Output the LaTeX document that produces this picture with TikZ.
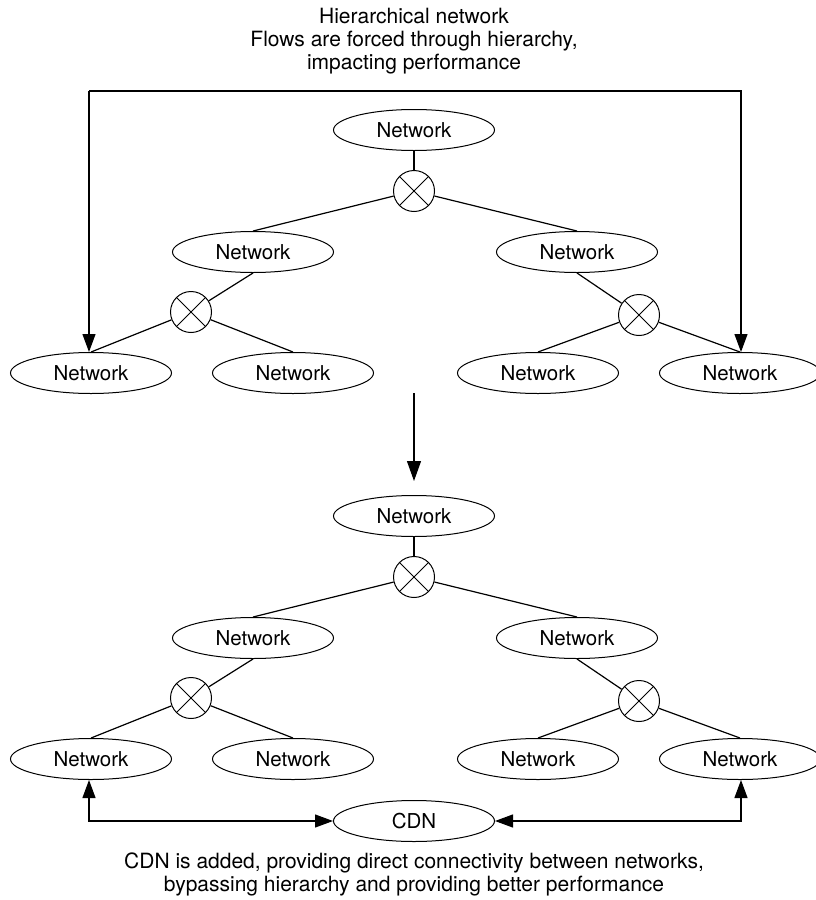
\documentclass[tikz,border=0pt]{standalone}
\usepackage{fontspec}
\setmainfont{TeX Gyre Heros}
\usetikzlibrary{shapes.geometric,arrows.meta}
\begin{document}
\begin{tikzpicture}[x=1pt,y=-1pt,
  net/.style={draw,ellipse,line width=1pt,minimum width=161pt,minimum height=41pt,inner sep=0pt,font=\fontsize{20.5}{24}\selectfont},
  switch/.style={draw,circle,line width=1pt,minimum size=41pt,inner sep=0pt,
    path picture={\draw[line width=1pt] (path picture bounding box.north west) -- (path picture bounding box.south east)
      (path picture bounding box.south west) -- (path picture bounding box.north east);}},
  link/.style={line width=1.2pt},
  flow/.style={line width=1.2pt,{Triangle[length=18pt,width=13pt]}-{Triangle[length=18pt,width=13pt]}},
  caption/.style={align=center,font=\fontsize{21}{23}\selectfont}]
\useasboundingbox (0,0) rectangle (816,900);

% heading
\node[caption] (head) at (414,41) {Hierarchical network\\Flows are forced through hierarchy,\\impacting performance};

% upper tree
\node[net] (t0) at (414,130) {Network};
\node[switch] (ts0) at (414,191) {};
\node[net] (t1) at (253,252) {Network};
\node[net] (t2) at (577,252) {Network};
\node[switch] (ts1) at (191,312) {};
\node[switch] (ts2) at (639,315) {};
\node[net] (t3) at (91,373) {Network};
\node[net] (t4) at (293,373) {Network};
\node[net] (t5) at (538,373) {Network};
\node[net] (t6) at (740,373) {Network};

\draw[link] (t0) -- (ts0);
\draw[link] (t1.north) -- (ts0);
\draw[link] (t2.north) -- (ts0);
\draw[link] (t1.south) -- (ts1);
\draw[link] (t2.south) -- (ts2);
\draw[link] (t3.north) -- (ts1);
\draw[link] (t4.north) -- (ts1);
\draw[link] (t5.north) -- (ts2);
\draw[link] (t6.north) -- (ts2);

% forced path through the hierarchy
\coordinate (bar) at (0,91);
\coordinate (la) at (89,352);
\coordinate (ra) at (741,352);
\draw[line width=1.2pt,-{Triangle[length=18pt,width=13pt]}] (la |- bar) -- (la);
\draw[line width=1.2pt,-{Triangle[length=18pt,width=13pt]}] (la |- bar) -- (ra |- bar) -- (ra);

% transition arrow
\coordinate (ms) at (414,393);
\coordinate (me) at (414,481);
\draw[line width=1.2pt,-{Triangle[length=20pt,width=14pt]}] (ms) -- (me);

% lower tree
\node[net] (b0) at (414,516) {Network};
\node[switch] (bs0) at (414,577) {};
\node[net] (b1) at (253,638) {Network};
\node[net] (b2) at (577,638) {Network};
\node[switch] (bs1) at (191,698) {};
\node[switch] (bs2) at (639,701) {};
\node[net] (b3) at (91,759) {Network};
\node[net] (b4) at (293,759) {Network};
\node[net] (b5) at (538,759) {Network};
\node[net] (b6) at (740,759) {Network};

\draw[link] (b0) -- (bs0);
\draw[link] (b1.north) -- (bs0);
\draw[link] (b2.north) -- (bs0);
\draw[link] (b1.south) -- (bs1);
\draw[link] (b2.south) -- (bs2);
\draw[link] (b3.north) -- (bs1);
\draw[link] (b4.north) -- (bs1);
\draw[link] (b5.north) -- (bs2);
\draw[link] (b6.north) -- (bs2);

% CDN with direct links
\node[net] (cdn) at (414,821) {CDN};
\coordinate (lb) at (89,780);
\coordinate (rb) at (741,780);
\draw[flow] (lb) |- (cdn.west);
\draw[flow] (rb) |- (cdn.east);

\node[caption] (foot) at (414,874) {CDN is added, providing direct connectivity between networks,\\bypassing hierarchy and providing better performance};
\end{tikzpicture}
\end{document}
